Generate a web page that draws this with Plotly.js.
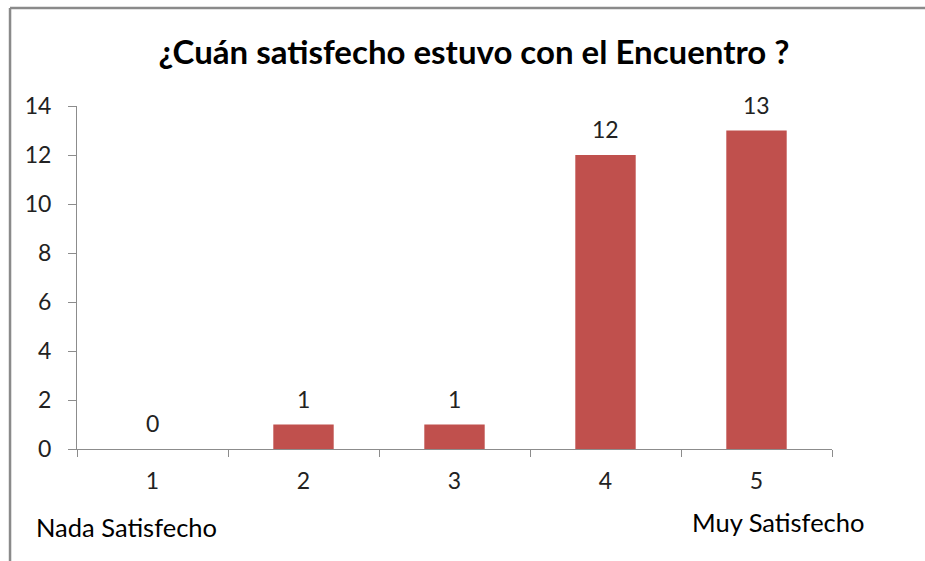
<!DOCTYPE html>
<html>
<head>
<meta charset="utf-8">
<script src="https://cdn.plot.ly/plotly-3.0.1.min.js"></script>
<style>html,body{margin:0;padding:0;background:#fff;}#chart{width:925px;height:561px;}</style>
</head>
<body>
<div id="chart"></div>
<script>
const categories = ["1", "2", "3", "4", "5"];
const values = [0, 1, 1, 12, 13];
const yTicks = [0, 2, 4, 6, 8, 10, 12, 14];
const titleText = "¿Cuán satisfecho estuvo con el Encuentro ?";
const lowLabel = "Nada Satisfecho";
const highLabel = "Muy Satisfecho";

const FONT = "Lato, 'Open Sans', sans-serif";
const AXIS_COLOR = "#8c8c8c";

const trace = {
  type: "bar",
  x: categories,
  y: values,
  marker: { color: "#C0504D" },
  width: 0.4,
  hoverinfo: "skip"
};

// value labels: x given as category index on the category axis
const valueLabels = categories.map((c, i) => ({
  x: i, y: values[i], xref: "x", yref: "y",
  text: String(values[i]), showarrow: false,
  yanchor: "middle", yshift: 26,
  font: { family: FONT, size: 23, color: "#222" }
}));

const layout = {
  width: 925, height: 561,
  margin: { l: 77, r: 93, t: 106, b: 112 },
  paper_bgcolor: "#fff", plot_bgcolor: "#fff",
  showlegend: false,
  bargap: 0.6,
  title: {
    text: "<b>" + titleText + "</b>",
    x: 0.5124, xref: "container", xanchor: "center",
    y: 0.907, yref: "container", yanchor: "middle",
    font: { family: FONT, size: 33, color: "#000" }
  },
  xaxis: {
    type: "category",
    categoryorder: "array", categoryarray: categories,
    range: [-0.5, categories.length - 0.5],
    tickson: "boundaries",
    ticks: "outside", ticklen: 7, tickcolor: AXIS_COLOR, tickwidth: 1,
    showline: true, linecolor: AXIS_COLOR, linewidth: 1,
    showgrid: false, zeroline: false,
    ticklabelstandoff: 11,
    tickfont: { family: FONT, size: 23, color: "#222" }
  },
  yaxis: {
    range: [0, 14],
    tickvals: yTicks,
    ticktext: yTicks.map(String),
    ticks: "outside", ticklen: 8, tickcolor: AXIS_COLOR, tickwidth: 1,
    showline: true, linecolor: AXIS_COLOR, linewidth: 1,
    showgrid: false, zeroline: false,
    ticklabelstandoff: 12,
    tickfont: { family: FONT, size: 23, color: "#222" }
  },
  annotations: valueLabels.concat([
    { xref: "paper", yref: "paper", x: 0.0656, y: -0.2274, xanchor: "center", yanchor: "middle",
      text: lowLabel, showarrow: false, font: { family: FONT, size: 25.5, color: "#000" } },
    { xref: "paper", yref: "paper", x: 0.9285, y: -0.2128, xanchor: "center", yanchor: "middle",
      text: highLabel, showarrow: false, font: { family: FONT, size: 25.5, color: "#000" } }
  ]),
  shapes: [
    { type: "line", xref: "paper", yref: "paper", x0: -0.0887, x1: 1.2, y0: 1.2857, y1: 1.2857,
      line: { color: "#8a8a8a", width: 2.5 } },
    { type: "line", xref: "paper", yref: "paper", x0: -0.0887, x1: -0.0887, y0: 1.2857, y1: -0.4,
      line: { color: "#8a8a8a", width: 2.5 } }
  ]
};

Plotly.newPlot("chart", [trace], layout, { displayModeBar: false, staticPlot: true });
</script>
</body>
</html>
